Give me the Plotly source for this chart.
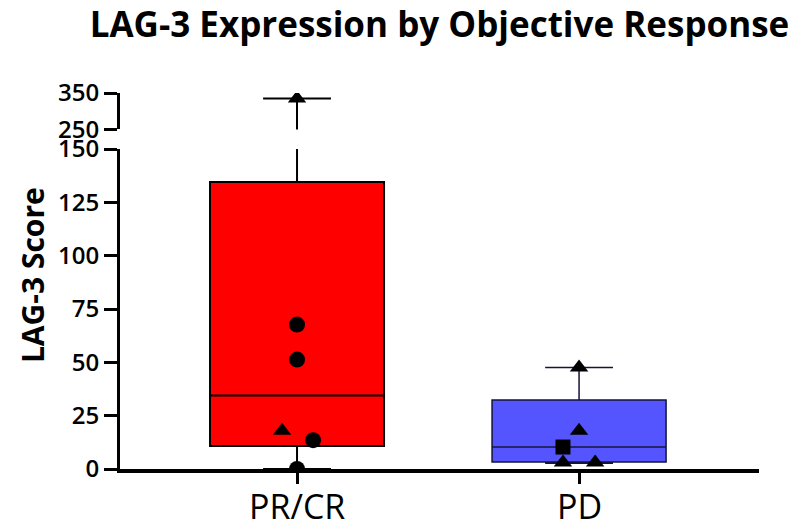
import plotly.graph_objects as go

# ---------------- data ----------------
categories = ["PR/CR", "PD"]
# box statistics: q1, median, q3, lower whisker, upper whisker
q1 = [10.8, 3.3]
median = [34.5, 10.3]
q3 = [134.5, 32.4]
lower_whisker = [0.0, 2.7]
upper_whisker = [335.0, 47.6]

# individual patient points
prcr_circle_values = [67.7, 51.3, 13.5, 0.0]
prcr_circle_offsets = [0.0, 0.0, 0.057, 0.0]
prcr_triangle_values = [17.9, 335.0]
prcr_triangle_offsets = [-0.053, 0.0]

pd_triangle_values = [47.6, 17.9, 3.0, 3.0]
pd_triangle_offsets = [0.0, 0.0, -0.057, 0.057]
pd_square_values = [10.3]
pd_square_offsets = [-0.057]

box_fill = ["#FF0000", "#5555FF"]
box_line = ["#000000", "#14143C"]
box_line_w = [2, 1.5]

BREAK_LOW = 150
BREAK_HIGH = 250

fig = go.Figure()

for i, cat in enumerate(categories):
    for yax in ["y", "y2"]:
        fig.add_trace(go.Box(
            x=[i], q1=[q1[i]], median=[median[i]], q3=[q3[i]],
            lowerfence=[lower_whisker[i]], upperfence=[upper_whisker[i]],
            width=0.617, whiskerwidth=0.39,
            fillcolor=box_fill[i], line=dict(color=box_line[i], width=box_line_w[i]),
            boxpoints=False, showlegend=False, hoverinfo="skip",
            xaxis="x", yaxis=yax,
        ))

def add_points(center, values, offsets, symbol, size):
    low_x, low_y, hi_x, hi_y = [], [], [], []
    for v, o in zip(values, offsets):
        if v <= BREAK_LOW:
            low_x.append(center + o); low_y.append(v)
        else:
            hi_x.append(center + o); hi_y.append(v)
    for xs, ys, yax in [(low_x, low_y, "y"), (hi_x, hi_y, "y2")]:
        if xs:
            fig.add_trace(go.Scatter(
                x=xs, y=ys, mode="markers", xaxis="x", yaxis=yax,
                marker=dict(symbol=symbol, size=size, color="black"),
                showlegend=False, hoverinfo="skip",
            ))

add_points(0, prcr_circle_values, prcr_circle_offsets, "circle", 16)
add_points(0, prcr_triangle_values, prcr_triangle_offsets, "triangle-up", 16)
add_points(1, pd_triangle_values, pd_triangle_offsets, "triangle-up", 16)
add_points(1, pd_square_values, pd_square_offsets, "square", 15)

FONT = "Open Sans"
tickfont = dict(family=FONT, size=24, color="black", weight=600)

# page body has an 8px margin, so the figure is 8px smaller and shifted
W, H = 797, 521

annotations = [dict(text="LAG-3 Score", textangle=-90, xref="paper", yref="paper",
                    x=-0.136, y=0.516, xanchor="center", yanchor="middle",
                    showarrow=False,
                    font=dict(family=FONT, size=30, color="black", weight="bold"))]
for i, cat in enumerate(categories):
    annotations.append(dict(text=cat, xref="x", yref="paper", x=i, y=-0.098,
                            xanchor="center", yanchor="middle", showarrow=False,
                            font=dict(family=FONT, size=34, color="black")))

fig.update_layout(
    width=W, height=H,
    margin=dict(l=112, r=46, t=85, b=60, autoexpand=False),
    paper_bgcolor="white", plot_bgcolor="white",
    title=dict(text="LAG-3 Expression by Objective Response",
               font=dict(family=FONT, size=35, color="black", weight="bold"),
               x=0.5, xanchor="center", xref="paper",
               y=1 - 17 / H, yanchor="middle", yref="container"),
    xaxis=dict(range=[-0.6277, 1.638], tickvals=[0, 1], showticklabels=False,
               showline=True, linecolor="black", linewidth=3.5,
               ticks="outside", ticklen=11, tickwidth=3, tickcolor="black",
               showgrid=False, zeroline=False, anchor="y", automargin=False),
    yaxis=dict(domain=[0, 0.851], range=[0, 150], tickvals=[0, 25, 50, 75, 100, 125, 150],
               showline=True, linecolor="black", linewidth=3,
               ticks="outside", ticklen=13, tickwidth=3, tickcolor="black",
               tickfont=tickfont, showgrid=False, zeroline=False, anchor="x",
               automargin=False),
    yaxis2=dict(domain=[0.903, 1], range=[250, 350], tickvals=[250, 350],
                showline=True, linecolor="black", linewidth=3,
                ticks="outside", ticklen=13, tickwidth=3, tickcolor="black",
                tickfont=tickfont, showgrid=False, zeroline=False, anchor="x",
                automargin=False),
    annotations=annotations,
)

fig.write_html("out.html")
